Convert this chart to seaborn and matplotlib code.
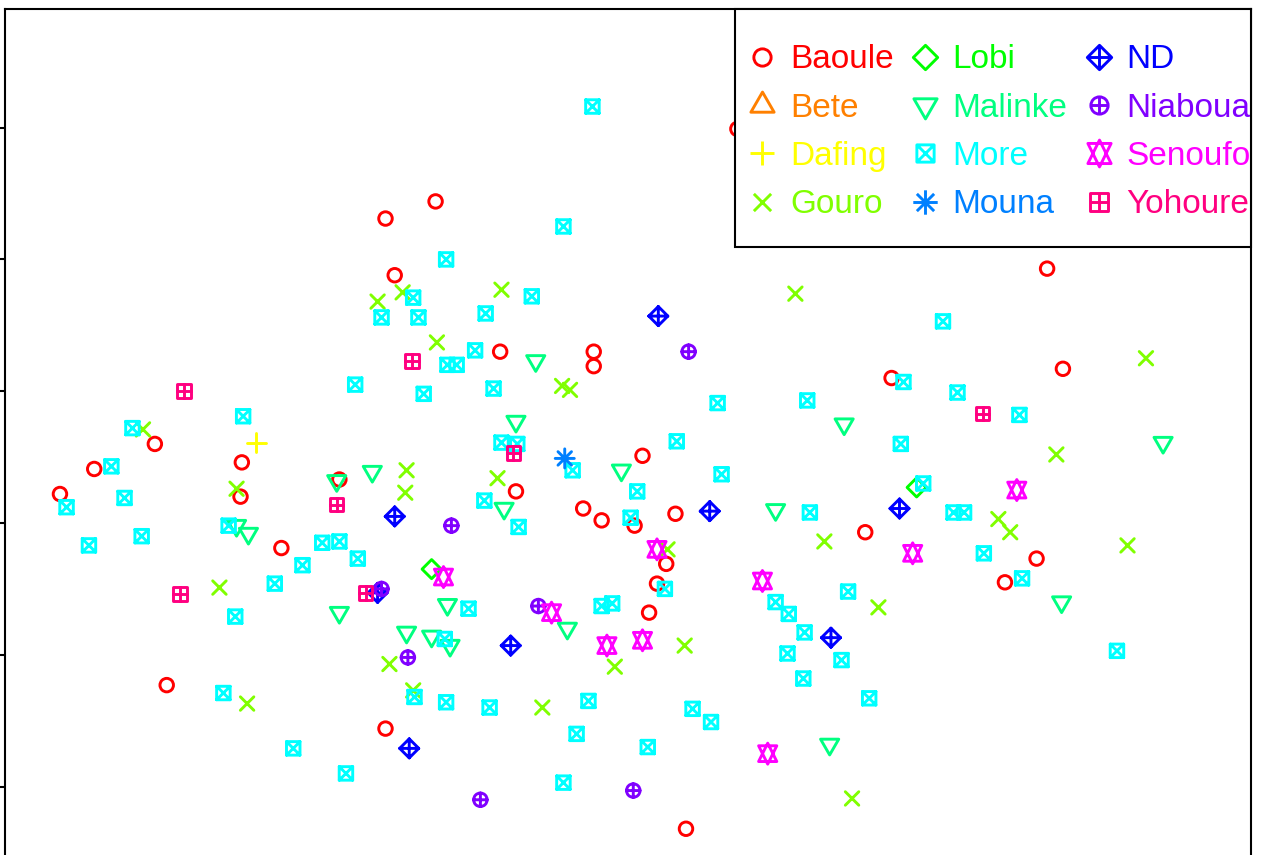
import numpy as np
import pandas as pd
import matplotlib
matplotlib.use("Agg")
import matplotlib.pyplot as plt
from matplotlib.path import Path
from matplotlib.markers import MarkerStyle
from matplotlib.lines import Line2D
from matplotlib.patches import Rectangle
import seaborn as sns

# Groupes (ordre de la legende)
groups = ["Baoule", "Bete", "Dafing", "Gouro", "Lobi", "Malinke",
          "More", "Mouna", "ND", "Niaboua", "Senoufo", "Yohoure"]

# Coordonnees (dim 1, dim 2)
baoule_x = [-1.84, -1.77, 0.83, -1.46, 3.18, -3.59, -2.93, -4.05, -4.31, -2.94, -2.63,
            -2.19, -0.97, -0.26, -0.26, 0.11, -0.85, -0.34, -0.20, 0.05, 0.36, 0.29,
            0.22, 0.16, 3.30, 2.00, 1.80, 3.10, 2.86, -3.50, -1.84, 0.44]
baoule_y = [2.31, 1.88, 2.99, 2.44, 1.93, 0.60, 0.46, 0.41, 0.22, 0.20, -0.19,
            0.33, 1.30, 1.30, 1.19, 0.51, 0.24, 0.11, 0.02, -0.02, 0.07, -0.31,
            -0.46, -0.68, 1.17, 1.10, -0.07, -0.27, -0.45, -1.23, -1.56, -2.32]
bete_x = []
bete_y = []
dafing_x = [-2.82]
dafing_y = [0.61]
gouro_x = [-1.90, -1.71, -0.96, 1.27, -1.45, -0.50, -0.44, -3.68, -2.97, -1.68, -1.69,
           -0.99, 1.49, 0.30, -3.10, -1.81, -1.63, -2.89, -0.65, -0.10, 0.43, 1.90,
           1.70, 3.93, 3.25, 2.81, 2.90, 3.79]
gouro_y = [1.68, 1.75, 1.77, 1.74, 1.37, 1.04, 1.01, 0.71, 0.26, 0.40, 0.23,
           0.34, -0.14, -0.20, -0.49, -1.07, -1.27, -1.37, -1.40, -1.09, -0.93, -0.64,
           -2.09, 1.25, 0.52, 0.03, -0.07, -0.17]
lobi_x = [-1.49, 2.19]
lobi_y = [-0.35, 0.27]
malinke_x = [-0.70, -0.85, -0.05, -0.94, 1.12, 1.64, 4.06, -1.94, -2.21, -2.97, -2.88,
             -2.19, -1.68, -1.37, -1.49, -1.35, -0.46, 1.53, 3.29]
malinke_y = [1.23, 0.77, 0.40, 0.11, 0.10, 0.75, 0.61, 0.39, 0.32, -0.02, -0.08,
             -0.68, -0.83, -0.62, -0.86, -0.93, -0.80, -1.68, -0.60]
more_x = [-0.27, -0.49, -1.38, -1.63, -1.87, -1.59, -0.73, -1.08, 2.39, -1.16,
          -1.37, -1.30, -2.07, -1.55, -1.02, 0.68, 1.36, 2.09, 2.50, 2.97,
          -2.92, -3.76, -3.92, -4.26, -3.82, -4.09, -3.69, -3.03, -2.47, -2.32,
          -2.19, -2.05, -0.96, -0.84, 0.37, -0.42, 0.71, 0.07, -1.09, -0.83,
          0.02, 1.38, 2.07, 2.24, 2.47, 2.55, 2.70, 2.99, -2.68, -2.98,
          -1.21, -1.39, -0.20, -0.12, 0.28, 1.12, 1.22, 1.34, 1.67, 1.21,
          1.62, 1.33, 1.83, 3.71, -3.07, -1.62, -1.38, -1.05, -0.30, 0.49,
          0.63, -0.39, 0.15, -2.54, -2.14, -0.49]
more_y = [3.16, 2.25, 2.00, 1.71, 1.56, 1.56, 1.72, 1.59, 1.53, 1.31,
          1.20, 1.20, 1.05, 0.98, 1.02, 0.91, 0.93, 1.07, 0.99, 0.82,
          0.81, 0.72, 0.43, 0.12, 0.19, -0.17, -0.10, -0.02, -0.32, -0.15,
          -0.14, -0.27, 0.61, 0.60, 0.62, 0.40, 0.37, 0.24, 0.17, -0.03,
          0.04, 0.08, 0.60, 0.30, 0.08, 0.08, -0.23, -0.42, -0.46, -0.71,
          -0.65, -0.88, -0.63, -0.61, -0.50, -0.60, -0.69, -0.83, -0.52, -0.99,
          -1.04, -1.18, -1.33, -0.97, -1.29, -1.32, -1.36, -1.40, -1.35, -1.41,
          -1.51, -1.60, -1.70, -1.71, -1.90, -1.97]
mouna_x = [-0.48]
mouna_y = [0.49]
nd_x = [0.23, -1.77, 0.62, 2.06, -1.90, -0.89, 1.54, -1.66]
nd_y = [1.57, 0.05, 0.09, 0.11, -0.53, -0.93, -0.87, -1.71]
niaboua_x = [0.46, -1.34, -1.87, -1.67, -0.68, -1.12, 0.04]
niaboua_y = [1.30, -0.02, -0.50, -1.02, -0.63, -2.10, -2.03]
senoufo_x = [-1.40, 0.22, 1.02, 2.16, 2.95, -0.58, -0.16, 0.11, 1.06]
senoufo_y = [-0.41, -0.20, -0.44, -0.23, 0.25, -0.68, -0.93, -0.89, -1.75]
yohoure_x = [-3.37, -1.64, -0.87, -2.21, 2.69, -3.40, -1.99]
yohoure_y = [1.00, 1.23, 0.53, 0.14, 0.83, -0.54, -0.53]

coords = {
    "Baoule": (baoule_x, baoule_y), "Bete": (bete_x, bete_y),
    "Dafing": (dafing_x, dafing_y), "Gouro": (gouro_x, gouro_y),
    "Lobi": (lobi_x, lobi_y), "Malinke": (malinke_x, malinke_y),
    "More": (more_x, more_y), "Mouna": (mouna_x, mouna_y),
    "ND": (nd_x, nd_y), "Niaboua": (niaboua_x, niaboua_y),
    "Senoufo": (senoufo_x, senoufo_y), "Yohoure": (yohoure_x, yohoure_y),
}
df = pd.concat([pd.DataFrame({"dim1": xs, "dim2": ys, "group": g})
                for g, (xs, ys) in coords.items()], ignore_index=True)

# palette arc-en-ciel a 12 couleurs
colors = ["#FF0000", "#FF8000", "#FFFF00", "#80FF00", "#00FF00", "#00FF80",
          "#00FFFF", "#0080FF", "#0000FF", "#8000FF", "#FF00FF", "#FF0080"]

# Symboles facon pch 1..12
RAD = 0.375
TRC0, TRC1, TRC2 = 1.55512030155621416, 1.34677368708859836, 0.77756015077810708


def seg(x0, y0, x1, y1):
    return Path([(x0, y0), (x1, y1)], [Path.MOVETO, Path.LINETO])


def poly(pts):
    pts = list(pts)
    return Path(pts + [pts[0]], [Path.MOVETO] + [Path.LINETO] * (len(pts) - 1) + [Path.CLOSEPOLY])


def circ(r):
    uc = Path.unit_circle()
    return Path(uc.vertices * r, uc.codes)


comp = Path.make_compound_path
rt, xt, yt = TRC0 * RAD, TRC1 * RAD, TRC2 * RAD
sq = RAD
s2 = np.sqrt(2) * RAD
dm = s2
ys = 0.5 * (yt + rt)
square = poly([(-sq, -sq), (sq, -sq), (sq, sq), (-sq, sq)])
diamond = poly([(-dm, 0), (0, dm), (dm, 0), (0, -dm)])
shapes = {
    "Baoule": circ(RAD),
    "Bete": poly([(0, rt), (xt, -yt), (-xt, -yt)]),
    "Dafing": comp(seg(-s2, 0, s2, 0), seg(0, -s2, 0, s2)),
    "Gouro": comp(seg(-RAD, -RAD, RAD, RAD), seg(-RAD, RAD, RAD, -RAD)),
    "Lobi": diamond,
    "Malinke": poly([(0, -rt), (xt, yt), (-xt, yt)]),
    "More": comp(square, seg(-sq, -sq, sq, sq), seg(-sq, sq, sq, -sq)),
    "Mouna": comp(seg(-RAD, -RAD, RAD, RAD), seg(-RAD, RAD, RAD, -RAD),
                  seg(-s2, 0, s2, 0), seg(0, -s2, 0, s2)),
    "ND": comp(diamond, seg(-dm, 0, dm, 0), seg(0, -dm, 0, dm)),
    "Niaboua": comp(circ(RAD), seg(-RAD, 0, RAD, 0), seg(0, -RAD, 0, RAD)),
    "Senoufo": comp(poly([(0, -rt), (xt, ys), (-xt, ys)]),
                    poly([(0, rt), (xt, -ys), (-xt, -ys)])),
    "Yohoure": comp(square, seg(-sq, 0, sq, 0), seg(0, -sq, 0, sq)),
}

K_PLOT = 18.0 * 0.72   # points par unite de symbole
K_LEG = 23.0 * 0.72
LW = 2.1

sns.set_style("white")
plt.rcParams["font.family"] = ["Liberation Sans", "DejaVu Sans"]

W, H = 1264, 855
fig = plt.figure(figsize=(W / 100, H / 100), dpi=100)
ax = fig.add_axes([5 / W, -0.10498, 1246 / W, 1.09446])

for g, col in zip(groups, colors):
    sub = df[df["group"] == g]
    if sub.empty:
        continue
    path = shapes[g]
    size = 2 * np.abs(path.vertices).max() * K_PLOT
    sns.scatterplot(data=sub, x="dim1", y="dim2", marker=MarkerStyle(path),
                    s=size ** 2, color=col, facecolor="none", edgecolor=col,
                    linewidth=LW, legend=False, ax=ax, zorder=2)
    pc = ax.collections[-1]
    pc.set_joinstyle("round")
    pc.set_capstyle("round")

ax.set_xlim(-4.727, 4.727)
ax.set_ylim(-3.2, 3.9)
ax.set_xlabel("")
ax.set_ylabel("")
ax.set_yticks(range(-2, 4))
ax.set_xticks(range(-4, 5))
ax.tick_params(axis="y", left=True, direction="out", length=3.6, width=1.5,
               color="black", labelleft=False)
ax.tick_params(axis="x", bottom=False, labelbottom=False)
for sp in ax.spines.values():
    sp.set_linewidth(1.5)
    sp.set_color("black")

# cadre de la legende
box = Rectangle((735 / W, 1 - 247 / H), 516 / W, 238 / H, transform=fig.transFigure,
                facecolor="white", edgecolor="black", linewidth=1.5, zorder=3)
fig.add_artist(box)

handles = []
for g, col in zip(groups, colors):
    path = shapes[g]
    ms = 2 * np.abs(path.vertices).max() * K_LEG
    handles.append(Line2D([], [], linestyle="none", marker=MarkerStyle(path), markersize=ms,
                          markerfacecolor="none", markeredgecolor=col, markeredgewidth=LW))
leg = fig.legend(handles, groups, loc="upper left", bbox_to_anchor=(752 / W, 1 - 44.4 / H),
                 ncol=3, frameon=False, borderpad=0, borderaxespad=0, fontsize=24,
                 handlelength=0.6, handletextpad=0.54, columnspacing=0.63, labelspacing=0.52)
leg.set_zorder(5)
for t, col in zip(leg.get_texts(), colors):
    t.set_color(col)

fig.savefig("out.png", dpi=100)
